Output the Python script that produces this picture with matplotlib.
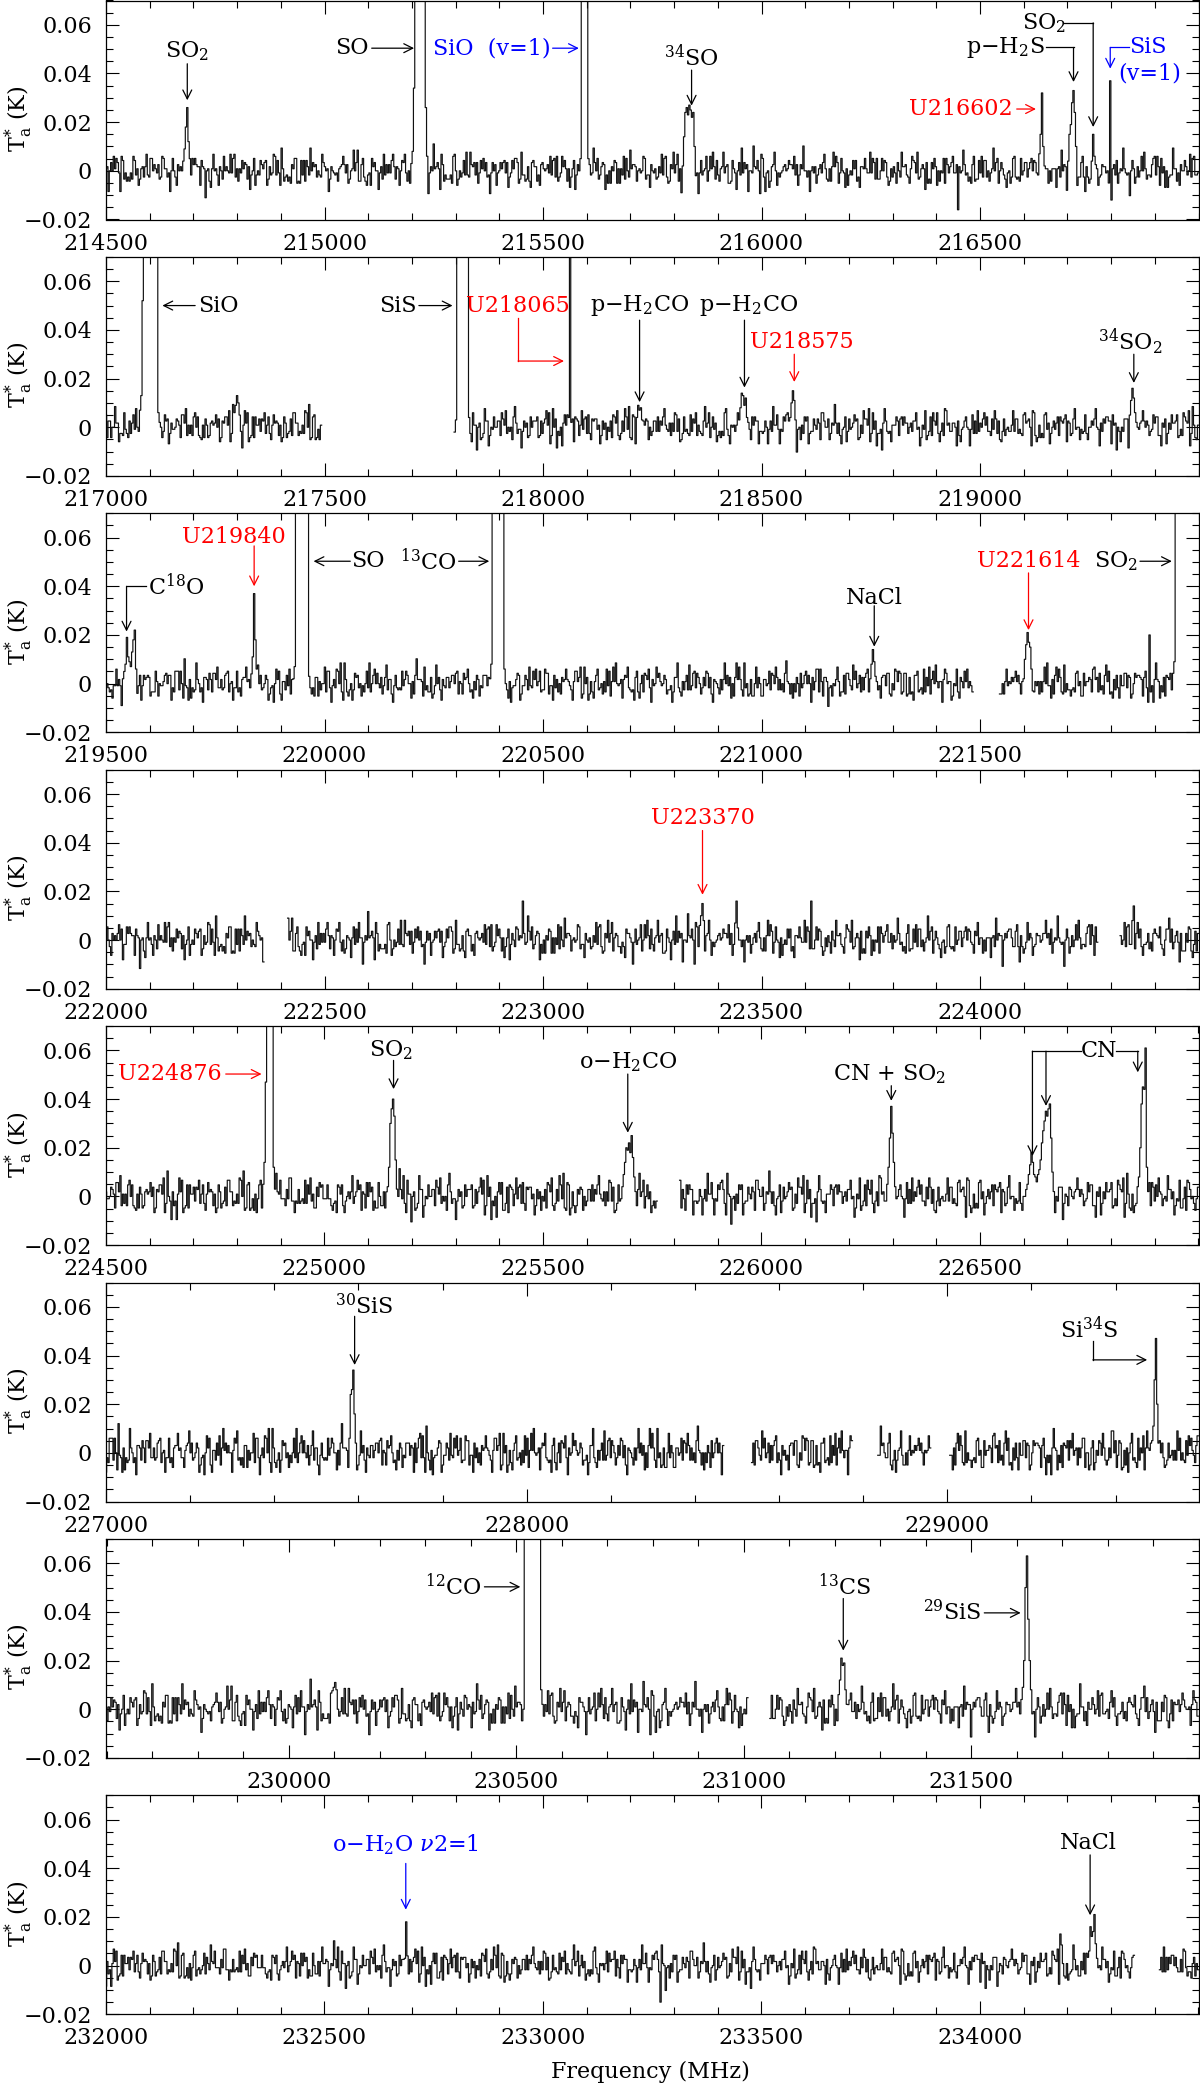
import numpy as np
import matplotlib
matplotlib.use("Agg")
import matplotlib.pyplot as plt
from matplotlib.ticker import MultipleLocator, FixedLocator, FuncFormatter

plt.rcParams["font.family"] = ["DejaVu Serif"]
plt.rcParams["mathtext.fontset"] = "dejavuserif"

CHAN = 3.0  # MHz per channel
FS = 16

# frequency range of every strip (MHz)
panel_ranges = [(214500, 217000), (217000, 219500), (219500, 222000),
                (222000, 224500), (224500, 227000), (227000, 229597),
                (229598, 232000), (232000, 234500)]
major_steps = [500, 500, 500, 500, 500, 1000, 500, 500]
minor_steps = [100, 100, 100, 100, 100, 200, 100, 100]
noise_scale = [0.85, 0.85, 0.85, 0.9, 0.95, 1.0, 0.95, 0.85]

# parts of the band that hold data
data_segments = [
    [(214500, 217000)],
    [(217000, 217492), (217796, 219500)],
    [(219500, 221485), (221546, 222000)],
    [(222000, 222361), (222417, 224268), (224321, 224500)],
    [(224500, 225761), (225813, 227000)],
    [(227000, 228469), (228536, 228774), (228836, 228960), (229005, 229597)],
    [(229598, 231009), (231058, 232000)],
    [(232000, 234352), (234410, 234500)],
]

# baseline noise (mK), read as typical channel excursions
noise_a = [2, -3, 5, -1, 0, 4, -6, 3, 1, -2, 6, -4, -1, 3, -5, 2, 0, -3, 7, -2,
           1, 4, -4, -1, 2, -6, 3, 5, -2, 0, -3, 1, 4, -5, 2, -1, 6, -3, 0, 2,
           -4, 5, -2, -1, 3, -7, 1, 4, -2, 0, 3, -3, 5, -1, -4, 2, 1, -5, 4, -2, 0]
noise_b = [-1, 3, -4, 2, 5, -2, 0, -3, 4, -1, 2, -5, 1, 3, -2, 6, -3, 0, -1, 4,
           -4, 2, 1, -3, 5, -2, -1, 0, 3, -6, 2, 4, -1, -3, 1, 3, -4, 0, 2, -2,
           5, -1, -3, 4, 0, -2, 1]

# emission lines: (first channel MHz, channel values in mK); 300 = off scale
lines_p1 = [(214677, [4, 9, 18, 26, 12, 5]),
            (215198, [3, 8, 34] + [300] * 8 + [26, 6]),
            (215585, [5] + [300] * 5 + [5]),
            (215818, [-9, 2, 14, 24, 26, 23, 27, 25, 22, 24, 10, -2]),
            (216637, [7, 15, 32, 10, 2]),
            (216698, [-8, 4, 15, 19, 28, 33, 24, 10, -6]),
            (216756, [4, 15, 6]),
            (216795, [-5, 37, -12]),
            (216451, [-16])]
lines_p2 = [(217078, [7, 13, 52] + [300] * 11 + [6, 2]),
            (217294, [6, 9, 13, 10, 5]),
            (217797, [-2, 3] + [300] * 9 + [4]),
            (218059, [4, 300, 2]),
            (218216, [4, 9, 7, 8, 3]),
            (218449, [3, 8, 14, 13, 9, 12, 4, 2]),
            (218566, [4, 10, 15, 11, 3]),
            (219343, [5, 11, 16, 12, 6, 2])]
lines_p3 = [(219537, [-9, 2, 5, 8, 19, 11, 9, 7, 13, 18, 22, 6, -4]),
            (219833, [4, 11, 37, 18, 6]),
            (219929, [2, 7] + [300] * 10 + [3]),
            (220379, [2, 8] + [300] * 9 + [6]),
            (221249, [2, 8, 14, 9, 3]),
            (221599, [2, 10, 16, 21, 17, 15, 6, -3]),
            (221889, [20]),
            (221945, [9] + [300] * 18)]
lines_p4 = [(222955, [16]),
            (223359, [6, 10, 15, 8]),
            (223441, [7, 16, 5]),
            (223613, [16]),
            (224349, [8, 14])]
lines_p5 = [(224861, [5, 14, 47] + [300] * 5 + [12, 3]),
            (225146, [4, 12, 30, 36, 40, 33, 15, 3]),
            (225681, [4, 9, 14, 20, 19, 22, 18, 25, 16, 8, 2]),
            (226288, [5, 12, 24, 37, 26, 14, 4]),
            (226608, [5, 9, 13, 18, 14, 9, 8, 6, 9, 11, 15, 22, 27, 31, 35, 33,
                      36, 38, 24, 10, 2]),
            (226860, [4, 8, 20, 38, 45, 44, 61, 12, 2])]
lines_p6 = [(227579, [6, 24, 26, 34, 16, 4]),
            (229005, [12]),
            (229487, [5, 11, 30, 47, 20, 4])]
lines_p7 = [(230100, [9, 11, 8]),
            (230518, [300] * 12 + [8, 2]),
            (231208, [6, 12, 21, 18, 19, 8, 2]),
            (231611, [4, 9, 20, 50, 63, 37, 20, 8])]
lines_p8 = [(232683, [3, 18, 4]),
            (233270, [-15]),
            (234183, [13]),
            (234249, [6, 16, 12, 14, 21, 9, 3])]
panel_lines = [lines_p1, lines_p2, lines_p3, lines_p4,
               lines_p5, lines_p6, lines_p7, lines_p8]

K, R, B = "black", "red", "blue"
# labels: (text, x, y, ha, colour, leader path ending in an arrow)
notes_p1 = [("SO$_2$", 214686, 0.049, "center", K, [(214686, 0.044), (214686, 0.029)]),
            ("SO", 215102, 0.0504, "right", K, [(215108, 0.0504), (215205, 0.0504)]),
            ("SiO  (v=1)", 215518, 0.0504, "right", B, [(215522, 0.0504), (215582, 0.0504)]),
            ("$^{34}$SO", 215840, 0.0465, "center", K, [(215840, 0.0414), (215840, 0.0268)]),
            ("SO$_2$", 216646, 0.0605, "center", K,
             [(216693, 0.0608), (216759, 0.0608), (216759, 0.018)]),
            ("p\u2212H$_2$S", 216649, 0.0505, "right", K,
             [(216651, 0.0507), (216714, 0.0507), (216714, 0.0365)]),
            ("SiS", 216842, 0.0507, "left", B,
             [(216840, 0.0507), (216798, 0.0507), (216798, 0.042)]),
            ("(v=1)", 216888, 0.040, "center", B, []),
            ("U216602", 216574, 0.0254, "right", R, [(216584, 0.0254), (216628, 0.0254)])]
notes_p2 = [("SiO", 217210, 0.050, "left", K, [(217204, 0.050), (217129, 0.050)]),
            ("SiS", 217711, 0.050, "right", K, [(217716, 0.050), (217793, 0.050)]),
            ("U218065", 217943, 0.050, "center", R,
             [(217943, 0.0448), (217943, 0.0272), (218048, 0.0272)]),
            ("p\u2212H$_2$CO", 218221, 0.050, "center", K, [(218221, 0.044), (218221, 0.0103)]),
            ("p\u2212H$_2$CO", 218470, 0.050, "center", K, [(218461, 0.044), (218461, 0.0163)]),
            ("U218575", 218592, 0.0352, "center", R, [(218575, 0.030), (218575, 0.0186)]),
            ("$^{34}$SO$_2$", 219345, 0.0352, "center", K, [(219352, 0.030), (219352, 0.0182)])]
notes_p3 = [("C$^{18}$O", 219596, 0.040, "left", K,
             [(219591, 0.040), (219547, 0.040), (219547, 0.0214)]),
            ("U219840", 219792, 0.0604, "center", R, [(219839, 0.0566), (219839, 0.040)]),
            ("SO", 220062, 0.0503, "left", K, [(220059, 0.0503), (219975, 0.0503)]),
            ("$^{13}$CO", 220303, 0.0503, "right", K, [(220307, 0.0503), (220377, 0.0503)]),
            ("NaCl", 221258, 0.0352, "center", K, [(221258, 0.032), (221258, 0.0152)]),
            ("U221614", 221611, 0.0503, "center", R, [(221611, 0.0455), (221611, 0.022)]),
            ("SO$_2$", 221861, 0.0503, "right", K, [(221866, 0.0503), (221939, 0.0503)])]
notes_p4 = [("U223370", 223365, 0.0503, "center", R, [(223365, 0.045), (223365, 0.0186)])]
notes_p5 = [("U224876", 224765, 0.0503, "right", R, [(224774, 0.0503), (224856, 0.0503)]),
            ("SO$_2$", 225153, 0.060, "center", K, [(225158, 0.0559), (225158, 0.0441)]),
            ("o\u2212H$_2$CO", 225694, 0.0552, "center", K, [(225694, 0.0503), (225694, 0.0262)]),
            ("CN + SO$_2$", 226293, 0.0503, "center", K, [(226297, 0.0455), (226297, 0.0393)]),
            ("CN", 226773, 0.0597, "center", K,
             [(226730, 0.0597), (226620, 0.0597), (226620, 0.0166)]),
            ("", 0, 0, "center", K, [(226651, 0.0597), (226651, 0.0372)]),
            ("", 0, 0, "center", K, [(226812, 0.0597), (226861, 0.0597), (226861, 0.051)])]
notes_p6 = [("$^{30}$SiS", 227613, 0.0603, "center", K, [(227591, 0.0561), (227591, 0.0361)]),
            ("Si$^{34}$S", 229338, 0.0505, "center", K,
             [(229346, 0.0458), (229346, 0.0382), (229475, 0.0382)])]
notes_p7 = [("$^{12}$CO", 230425, 0.0503, "right", K, [(230430, 0.0503), (230509, 0.0503)]),
            ("$^{13}$CS", 231223, 0.0505, "center", K, [(231219, 0.0455), (231219, 0.0241)]),
            ("$^{29}$SiS", 231522, 0.0396, "right", K, [(231529, 0.0396), (231609, 0.0396)])]
notes_p8 = [("o\u2212H$_2$O $\\nu$2=1", 232684, 0.0497, "center", B,
             [(232686, 0.042), (232686, 0.023)]),
            ("NaCl", 234247, 0.0503, "center", K, [(234252, 0.0455), (234252, 0.0207)])]
panel_notes = [notes_p1, notes_p2, notes_p3, notes_p4,
               notes_p5, notes_p6, notes_p7, notes_p8]


def build_spectrum(i):
    f0, f1 = panel_ranges[i]
    freq = np.arange(f0, f1 + CHAN, CHAN)
    k = np.arange(len(freq)) + 37 * i
    na = np.array(noise_a)[(3 * k) % len(noise_a)]
    nb = np.array(noise_b)[(k + 11 * i) % len(noise_b)]
    ta = (na + nb) * noise_scale[i]
    for start, vals in panel_lines[i]:
        j = int(round((start - f0) / CHAN))
        n = min(len(vals), len(ta) - j)
        ta[j:j + n] = vals[:n]
    mask = np.zeros(len(freq), bool)
    for a, b in data_segments[i]:
        mask |= (freq >= a - 0.1) & (freq <= b + 0.1)
    ta = np.where(mask, ta, np.nan)
    return freq, ta / 1000.0


def draw_note(ax, note):
    text, x, y, ha, color, path = note
    if text:
        ax.text(x, y, text, ha=ha, va="center", color=color, fontsize=FS)
    if len(path) > 2:
        xs, ys = zip(*path[:-1])
        ax.plot(xs, ys, color=color, lw=0.9)
    if len(path) >= 2:
        ax.annotate("", xy=path[-1], xytext=path[-2],
                    arrowprops=dict(arrowstyle="->", color=color, lw=0.9,
                                    shrinkA=0, shrinkB=0, mutation_scale=16))


def ylab(v, pos):
    if abs(v) < 1e-9:
        return "0"
    return ("%.2f" % v).replace("-", "\u2212")


fig = plt.figure(figsize=(12, 20.85), dpi=100)
W, H = 1200.0, 2085.0
for i in range(8):
    top = 256.4 * i + 0.5
    ax = fig.add_axes([106 / W, 1 - (top + 219) / H, 1092.5 / W, 219 / H])
    freq, ta = build_spectrum(i)
    ax.plot(freq, ta, drawstyle="steps-mid", color="#111111", lw=0.85)
    f0, f1 = panel_ranges[i]
    ax.set_xlim(f0, f1)
    ax.set_ylim(-0.02, 0.07)
    step = major_steps[i]
    majors = np.arange(np.ceil(f0 / step) * step, f1 - 1, step)
    ax.xaxis.set_major_locator(FixedLocator(majors))
    ax.xaxis.set_major_formatter(FuncFormatter(lambda v, p: "%d" % v))
    ax.xaxis.set_minor_locator(MultipleLocator(minor_steps[i]))
    ax.yaxis.set_major_locator(FixedLocator([-0.02, 0, 0.02, 0.04, 0.06]))
    ax.yaxis.set_major_formatter(FuncFormatter(ylab))
    ax.yaxis.set_minor_locator(MultipleLocator(0.005))
    ax.tick_params(which="both", direction="in", top=True, right=True,
                   width=0.8, labelsize=FS)
    ax.tick_params(which="major", length=9.4)
    ax.tick_params(which="minor", length=4.7)
    ax.tick_params(axis="x", pad=9.5)
    ax.tick_params(axis="y", pad=10)
    for sp in ax.spines.values():
        sp.set_linewidth(0.9)
    ax.text(-0.08, 0.46, r"T$_{\rm a}^{*}$ (K)", transform=ax.transAxes,
            rotation=90, ha="center", va="center", fontsize=FS)
    for note in panel_notes[i]:
        draw_note(ax, note)

fig.text(650 / W, 1 - 2072 / H, "Frequency (MHz)", ha="center", va="center",
         fontsize=FS)
fig.savefig("out.png", dpi=100)
